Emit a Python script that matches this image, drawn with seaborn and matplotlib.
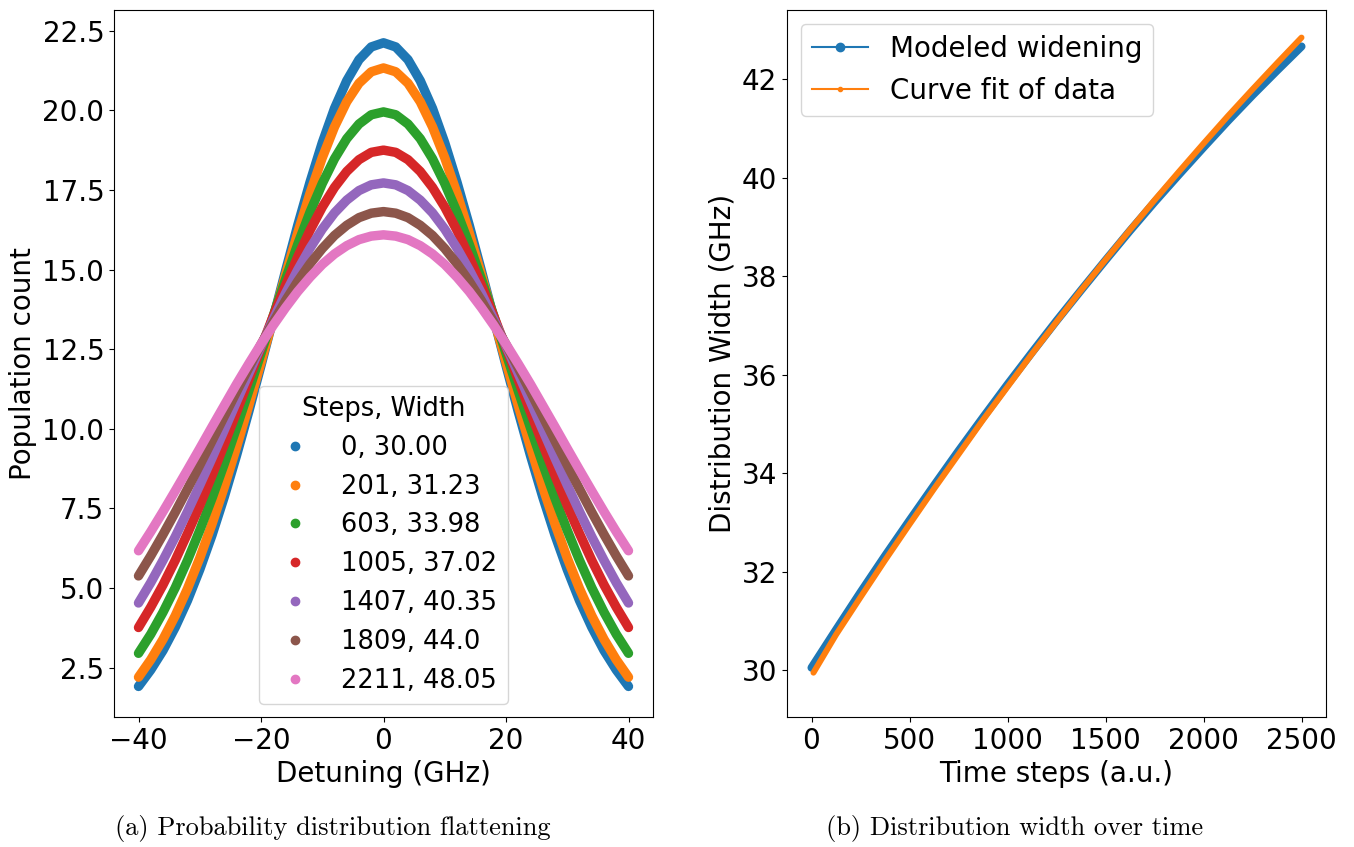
import matplotlib
matplotlib.use("Agg")
import matplotlib.pyplot as plt
from matplotlib.lines import Line2D
import seaborn as sns

# ---------------- data ----------------
# Left panel: population count vs detuning (symmetric curves, x >= 0 half)
detuning_half = [0, 2, 4, 6, 8, 10, 12, 14, 16, 18, 20, 22, 24, 26, 28, 30, 32, 34, 36, 38, 40]
pop_0 = [22.12, 21.99, 21.59, 20.93, 20.06, 18.98, 17.74, 16.39, 14.95, 13.47, 11.99,
         10.54, 9.16, 7.86, 6.66, 5.58, 4.61, 3.77, 3.04, 2.43, 1.91]
pop_201 = [21.33, 21.21, 20.85, 20.27, 19.48, 18.51, 17.39, 16.15, 14.83, 13.46, 12.09,
           10.73, 9.42, 8.17, 7.01, 5.94, 4.98, 4.13, 3.39, 2.75, 2.20]
pop_603 = [19.95, 19.86, 19.57, 19.11, 18.48, 17.70, 16.80, 15.79, 14.69, 13.55, 12.37,
           11.19, 10.03, 8.90, 7.82, 6.81, 5.87, 5.01, 4.24, 3.55, 2.95]
pop_1005 = [18.75, 18.68, 18.45, 18.08, 17.58, 16.96, 16.23, 15.40, 14.50, 13.54, 12.55,
            11.53, 10.52, 9.51, 8.53, 7.59, 6.71, 5.87, 5.10, 4.40, 3.76]
pop_1407 = [17.72, 17.66, 17.48, 17.18, 16.78, 16.27, 15.67, 14.99, 14.25, 13.44, 12.60,
            11.73, 10.85, 9.96, 9.08, 8.23, 7.40, 6.61, 5.87, 5.17, 4.53]
pop_1809 = [16.82, 16.77, 16.63, 16.39, 16.07, 15.66, 15.18, 14.63, 14.02, 13.35, 12.65,
            11.91, 11.16, 10.39, 9.62, 8.86, 8.11, 7.38, 6.68, 6.01, 5.38]
pop_2211 = [16.09, 16.05, 15.94, 15.75, 15.49, 15.16, 14.76, 14.31, 13.80, 13.25, 12.66,
            12.04, 11.40, 10.73, 10.06, 9.38, 8.71, 8.05, 7.40, 6.77, 6.17]
populations = [pop_0, pop_201, pop_603, pop_1005, pop_1407, pop_1809, pop_2211]
series_labels = ["0, 30.00", "201, 31.23", "603, 33.98", "1005, 37.02",
                 "1407, 40.35", "1809, 44.0", "2211, 48.05"]
legend_title = "Steps, Width"

# Right panel: distribution width over time
time_steps = [0, 125, 250, 375, 500, 625, 750, 875, 1000, 1125, 1250,
              1375, 1500, 1625, 1750, 1875, 2000, 2125, 2250, 2375, 2500]
modeled_width = [30.05, 30.82, 31.58, 32.32, 33.04, 33.75, 34.45, 35.13, 35.80, 36.45, 37.09,
                 37.71, 38.32, 38.92, 39.50, 40.06, 40.61, 41.15, 41.67, 42.17, 42.66]
fit_steps = [10, 125, 250, 375, 500, 625, 750, 875, 1000, 1125, 1250,
             1375, 1500, 1625, 1750, 1875, 2000, 2125, 2250, 2375, 2500]
fit_width = [29.95, 30.72, 31.48, 32.23, 32.96, 33.68, 34.38, 35.08, 35.75, 36.42, 37.07,
             37.71, 38.33, 38.94, 39.54, 40.12, 40.69, 41.25, 41.79, 42.32, 42.84]
right_labels = ["Modeled widening", "Curve fit of data"]

caption_a = "(a) Probability distribution flattening"
caption_b = "(b) Distribution width over time"

# ---------------- figure ----------------
plt.rcParams["font.family"] = ["DejaVu Sans"]
W, H = 1354, 847
fig = plt.figure(figsize=(W / 100, H / 100), dpi=100)
ax1 = fig.add_axes([114 / W, 1 - 717 / H, 539 / W, 707 / H])
ax2 = fig.add_axes([787 / W, 1 - 717 / H, 539 / W, 707 / H])

colors = sns.color_palette("tab10")

# Left panel
for i, vals in enumerate(populations):
    xs = [-d for d in reversed(detuning_half[1:])] + detuning_half
    ys = list(reversed(vals[1:])) + vals
    sns.lineplot(x=xs, y=ys, ax=ax1, color=colors[i], linewidth=6.8,
                 solid_capstyle="round", solid_joinstyle="round",
                 sort=False, legend=False)

ax1.set_xlim(-44, 44)
ax1.set_ylim(0.95, 23.15)
ax1.set_xticks([-40, -20, 0, 20, 40])
ax1.set_yticks([2.5, 5.0, 7.5, 10.0, 12.5, 15.0, 17.5, 20.0, 22.5])
ax1.set_xlabel("Detuning (GHz)", fontsize=20)
ax1.set_ylabel("Population count", fontsize=20)
ax1.tick_params(labelsize=20)

handles1 = [Line2D([0], [0], linestyle="", marker="o", markersize=6,
                   color=colors[i]) for i in range(len(series_labels))]
ax1.legend(handles1, series_labels, title=legend_title, loc="lower center",
           fontsize=18.5, title_fontsize=18.5)

# Right panel
sns.lineplot(x=time_steps, y=modeled_width, ax=ax2, color=colors[0],
             linewidth=5.8, solid_capstyle="round", solid_joinstyle="round",
             legend=False)
sns.lineplot(x=fit_steps, y=fit_width, ax=ax2, color=colors[1],
             linewidth=4.3, solid_capstyle="round", solid_joinstyle="round",
             legend=False)
ax2.set_xlim(-125, 2625)
ax2.set_ylim(29.05, 43.4)
ax2.set_xticks([0, 500, 1000, 1500, 2000, 2500])
ax2.set_yticks([30, 32, 34, 36, 38, 40, 42])
ax2.set_xlabel("Time steps (a.u.)", fontsize=20)
ax2.set_ylabel("Distribution Width (GHz)", fontsize=20)
ax2.tick_params(labelsize=20)

handles2 = [Line2D([0], [0], color=colors[0], marker="o", markersize=6, linewidth=1.5),
            Line2D([0], [0], color=colors[1], marker=".", markersize=6, linewidth=1.5)]
ax2.legend(handles2, right_labels, loc="upper left", fontsize=20)

for ax in (ax1, ax2):
    ax.set_facecolor("white")
    for s in ax.spines.values():
        s.set_color("black")
        s.set_linewidth(0.8)

fig.text(333 / W, 1 - 828 / H, caption_a, ha="center", va="center",
         fontsize=19, family=["cmr10", "DejaVu Serif"])
fig.text(1015 / W, 1 - 828 / H, caption_b, ha="center", va="center",
         fontsize=19, family=["cmr10", "DejaVu Serif"])

fig.savefig("out.png", dpi=100, facecolor="white")
